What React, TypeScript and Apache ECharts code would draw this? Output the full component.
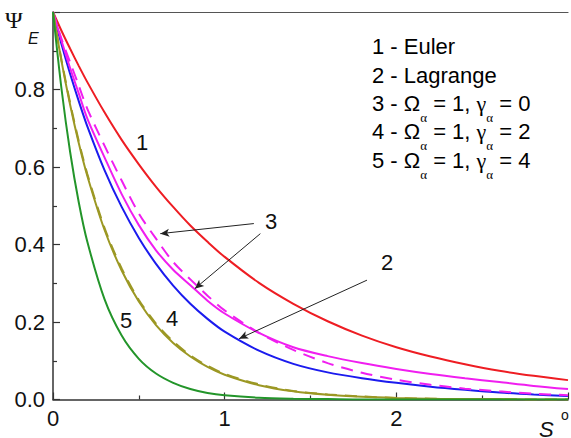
import React, { useEffect, useRef } from "react";
import * as echarts from "echarts";

// Dimensionless distance s° at which each curve is sampled
const sValues = [0, 0.05, 0.1, 0.15, 0.2, 0.3, 0.4, 0.5, 0.6, 0.7, 0.8, 0.9, 1.0, 1.2, 1.4, 1.6, 1.8, 2.0, 2.2, 2.4, 2.6, 2.8, 3.0];

// Ψ_E for each model
const eulerValues = [1, 0.951, 0.905, 0.861, 0.819, 0.741, 0.67, 0.607, 0.549, 0.497, 0.449, 0.407, 0.368, 0.301, 0.247, 0.202, 0.165, 0.135, 0.111, 0.091, 0.074, 0.061, 0.05];
const lagrangeValues = [1, 0.916, 0.84, 0.77, 0.705, 0.592, 0.497, 0.417, 0.35, 0.294, 0.247, 0.208, 0.175, 0.126, 0.092, 0.07, 0.055, 0.043, 0.033, 0.025, 0.018, 0.013, 0.009];
const gamma0Solid = [1, 0.925, 0.855, 0.79, 0.725, 0.625, 0.53, 0.45, 0.385, 0.335, 0.295, 0.255, 0.222, 0.172, 0.135, 0.112, 0.094, 0.079, 0.066, 0.055, 0.045, 0.035, 0.027];
const gamma0Dashed = [1, 0.93, 0.87, 0.81, 0.75, 0.655, 0.565, 0.48, 0.415, 0.355, 0.31, 0.268, 0.23, 0.172, 0.128, 0.094, 0.069, 0.051, 0.038, 0.028, 0.021, 0.015, 0.011];
const gamma2Solid = [1, 0.872, 0.76, 0.662, 0.577, 0.438, 0.333, 0.253, 0.192, 0.146, 0.111, 0.084, 0.064, 0.037, 0.021, 0.012, 0.007, 0.004, 0.002, 0.001, 0.001, 0, 0];
const gamma2Dashed = [1, 0.875, 0.765, 0.667, 0.582, 0.443, 0.338, 0.257, 0.196, 0.15, 0.114, 0.087, 0.066, 0.039, 0.022, 0.013, 0.008, 0.004, 0.002, 0.001, 0.001, 0, 0];
const gamma4Values = [1, 0.8, 0.638, 0.509, 0.407, 0.259, 0.165, 0.105, 0.067, 0.043, 0.027, 0.017, 0.011, 0.0045, 0.002, 0.001, 0, 0, 0, 0, 0, 0, 0];

// Axis ticks
const yTicks = [0, 0.2, 0.4, 0.6, 0.8];
const xTicks = [0, 1, 2];

// Legend entries
const legendLines = [
  "{a|1 - Euler}",
  "{a|2 - Lagrange}",
  "{a|3 - Ω}{s|α}{a| = 1, }{g|γ}{s|α}{a| = 0}",
  "{a|4 - Ω}{s|α}{a| = 1, }{g|γ}{s|α}{a| = 2}",
  "{a|5 - Ω}{s|α}{a| = 1, }{g|γ}{s|α}{a| = 4}",
];

// Arrows from the curve numbers to the curves, in data units [s, Ψ]
const arrowLines = [
  [[1.17, 0.454], [0.625, 0.428]],
  [[1.208, 0.428], [0.826, 0.286]],
  [[1.829, 0.308], [1.084, 0.157]],
];

const SANS = "'Liberation Sans', Arial, sans-serif";
const SERIF = "'Liberation Serif', 'Times New Roman', serif";

const pair = (ys: number[]) => sValues.map((s, i) => [s, ys[i]]);

export default function App() {
  const ref = useRef<HTMLDivElement>(null);

  useEffect(() => {
    if (!ref.current) return;
    const chart = echarts.init(ref.current, undefined, { renderer: "svg" });

    const curve = (name: string, ys: number[], color: string, dashed = false, extra: any = {}) => ({
      name,
      type: "line",
      data: pair(ys),
      showSymbol: false,
      smooth: 0.3,
      lineStyle: { color, width: 2, type: dashed ? [12, 8] : "solid" },
      emphasis: { disabled: true },
      silent: true,
      ...extra,
    });

    const richStyle = {
      a: { fontFamily: SANS, fontSize: 22, color: "#111", verticalAlign: "middle" },
      g: { fontFamily: SERIF, fontSize: 22, color: "#111", verticalAlign: "middle" },
      s: { fontFamily: SERIF, fontSize: 13, color: "#111", padding: [28, 0, 0, 0], verticalAlign: "middle" },
    };

    const legendY = [46.7, 75, 103.3, 131.7, 160];

    const curveNumbers = [
      { t: "1", x: 142, y: 142 },
      { t: "2", x: 387, y: 262 },
      { t: "3", x: 271, y: 221 },
      { t: "4", x: 172, y: 318 },
      { t: "5", x: 126, y: 320 },
    ];

    chart.setOption({
      animation: false,
      backgroundColor: "#ffffff",
      grid: { left: 53, top: 12, width: 523, height: 387.5, containLabel: false },
      xAxis: [
        {
          type: "value",
          min: 0,
          max: 3,
          interval: 1,
          axisLine: { show: true, lineStyle: { color: "#333", width: 1.5 } },
          axisTick: { show: true, inside: true, length: 7, lineStyle: { color: "#333", width: 1.2 } },
          minorTick: { show: true, splitNumber: 2, length: 4, lineStyle: { color: "#333", width: 1.2 } },
          splitLine: { show: false },
          axisLabel: {
            margin: 8,
            fontFamily: SANS,
            fontSize: 22,
            color: "#111",
            formatter: (v: number) => (xTicks.includes(v) ? String(v) : ""),
          },
        },
        {
          type: "value",
          position: "top",
          min: 0,
          max: 3,
          axisLine: { show: true, lineStyle: { color: "#555", width: 1.2 } },
          axisTick: { show: false },
          axisLabel: { show: false },
          splitLine: { show: false },
        },
      ],
      yAxis: {
        type: "value",
        min: 0,
        max: 1,
        interval: 0.2,
        axisLine: { show: true, lineStyle: { color: "#333", width: 1.5 } },
        axisTick: { show: true, inside: true, length: 7, lineStyle: { color: "#333", width: 1.2 } },
        minorTick: { show: true, splitNumber: 2, length: 4, lineStyle: { color: "#333", width: 1.2 } },
        splitLine: { show: false },
        axisLabel: {
          margin: 8,
          fontFamily: SANS,
          fontSize: 22,
          color: "#111",
          formatter: (v: number) => (yTicks.some((t) => Math.abs(t - v) < 1e-9) ? v.toFixed(1) : ""),
        },
      },
      series: [
        curve("1 - Euler", eulerValues, "#ee1d23", false, {
          markLine: {
            silent: true,
            symbol: ["none", "arrow"],
            symbolSize: [6, 9],
            label: { show: false },
            lineStyle: { color: "#222", width: 1, type: "solid" },
            emphasis: { disabled: true },
            data: arrowLines.map(([a, b]) => [{ coord: a }, { coord: b }]),
          },
        }),
        curve("2 - Lagrange", lagrangeValues, "#1b1bee"),
        curve("3 solid", gamma0Solid, "#f01ef0"),
        curve("3 dashed", gamma0Dashed, "#f01ef0", true),
        curve("4 solid", gamma2Solid, "#9c9824"),
        curve("4 dashed", gamma2Dashed, "#9c9824", true),
        curve("5", gamma4Values, "#23952a"),
      ],
      graphic: [
        // y-axis title Ψ_E
        { type: "text", left: 5, top: 8, style: { text: "Ψ", fontFamily: SERIF, fontSize: 24, fill: "#111" } },
        { type: "text", left: 28, top: 30, style: { text: "E", fontFamily: SANS, fontStyle: "italic", fontSize: 16, fill: "#111" } },
        // x-axis title s°
        { type: "text", left: 539, top: 418, style: { text: "S", fontFamily: SANS, fontStyle: "italic", fontSize: 22, fill: "#111" } },
        { type: "text", left: 561, top: 408, style: { text: "o", fontFamily: SANS, fontSize: 14, fill: "#111" } },
        // curve numbers
        ...curveNumbers.map((c) => ({
          type: "text",
          x: c.x,
          y: c.y,
          style: { text: c.t, fontFamily: SANS, fontSize: 22, fill: "#111", align: "center", verticalAlign: "middle" },
        })),
        // legend block
        ...legendLines.map((t, i) => ({
          type: "text",
          x: 372,
          y: legendY[i],
          style: { text: t, rich: richStyle, align: "left", verticalAlign: "middle" },
        })),
      ],
    });

    return () => chart.dispose();
  }, []);

  return (
    <div
      ref={ref}
      style={{ position: "absolute", left: 0, top: 0, width: 571, height: 438, background: "#fff" }}
    />
  );
}
